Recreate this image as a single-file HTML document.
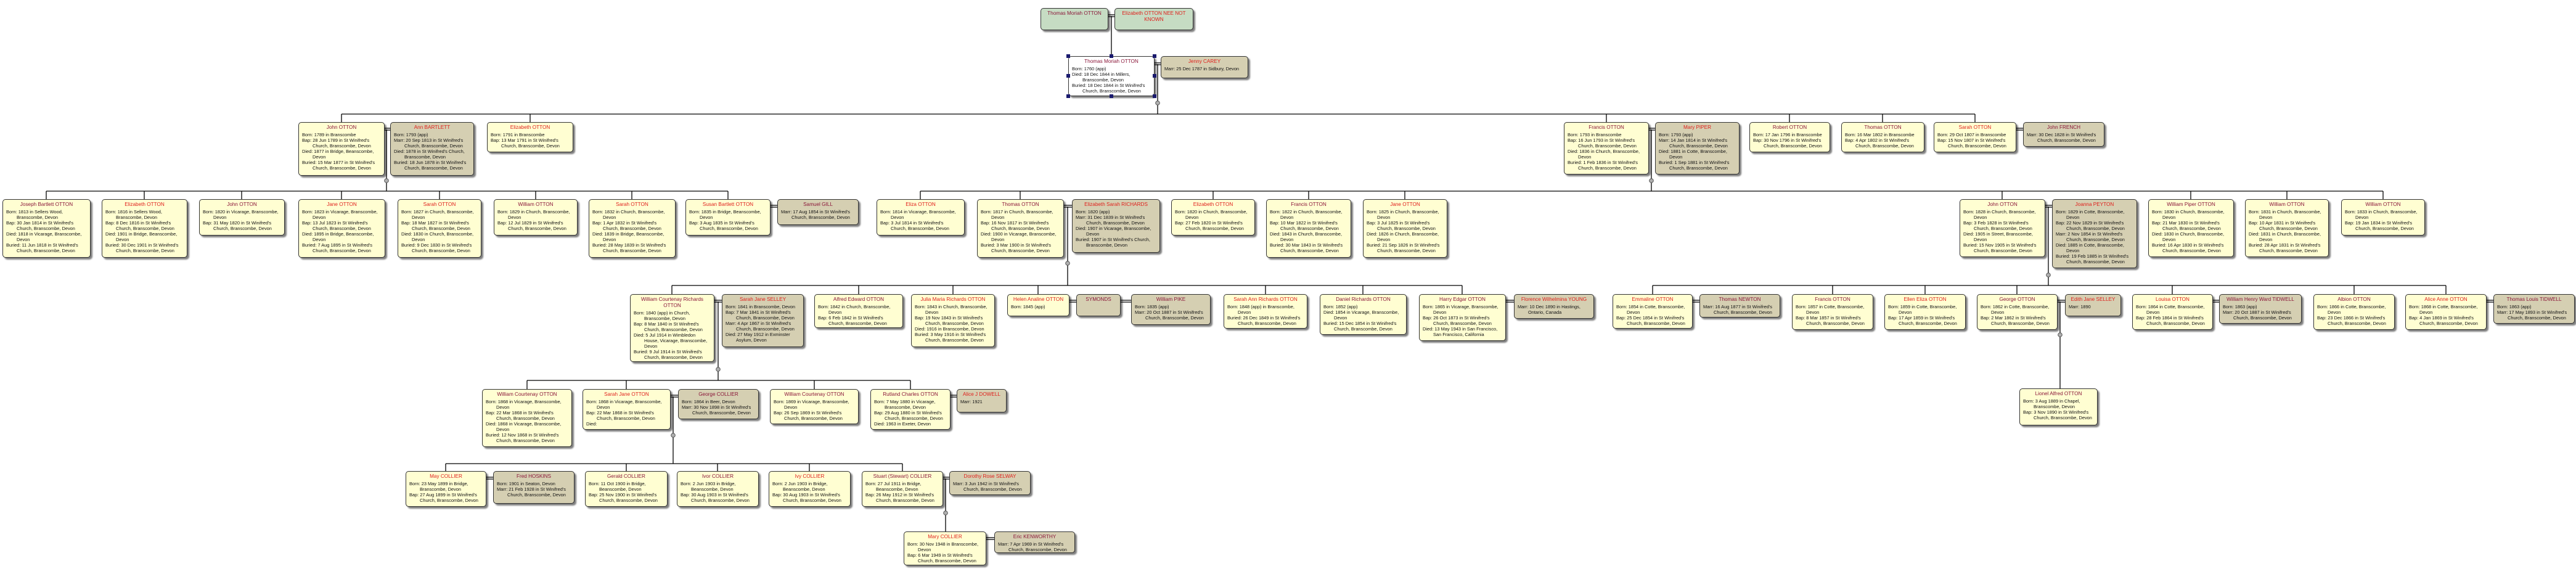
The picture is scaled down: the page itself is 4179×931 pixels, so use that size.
<!DOCTYPE html>
<html><head><meta charset="utf-8">
<style>
body{margin:0;width:4179px;height:931px;background:#fff;position:relative;overflow:hidden;font-family:"Liberation Sans",sans-serif;}
svg.l{position:absolute;left:0;top:0}
.b{position:absolute;box-sizing:border-box;border:1px solid #333;border-radius:5px;box-shadow:3px 3px 2px rgba(0,0,0,.5);font-size:7.4px;color:#111;overflow:hidden;white-space:nowrap}
.y{background:#fffed2}.t{background:#d5cfb2}.g{background:#c6dcc3}.w{background:#fff}
.n{text-align:center;font-size:8.2px;line-height:10px;margin:3px 0 2px}
.m{color:#8a1538}.r{color:#e01e1a}
.b div.d{line-height:9px;padding-left:5px}
.b div.c{line-height:9px;padding-left:22px}
.h{position:absolute;width:6px;height:6px;background:#1a1a6e}
</style></head><body>
<svg class="l" width="4179" height="931" stroke="#000" stroke-width="1.3" fill="none">
<!-- top -->
<line x1="1798" y1="24" x2="1808" y2="24"/><line x1="1798" y1="27" x2="1808" y2="27"/>
<line x1="1803" y1="26" x2="1803" y2="91"/>
<line x1="1873" y1="102" x2="1883" y2="102"/><line x1="1873" y1="105" x2="1883" y2="105"/>
<line x1="1878" y1="104" x2="1878" y2="185"/>
<!-- row2 bar -->
<line x1="554" y1="185" x2="3204" y2="185"/>
<line x1="554" y1="185" x2="554" y2="198"/><line x1="860" y1="185" x2="860" y2="198"/><line x1="2606" y1="185" x2="2606" y2="198"/><line x1="2903" y1="185" x2="2903" y2="198"/><line x1="3054" y1="185" x2="3054" y2="198"/><line x1="3204" y1="185" x2="3204" y2="198"/>
<line x1="624" y1="208" x2="633" y2="208"/><line x1="624" y1="211" x2="633" y2="211"/><line x1="627" y1="210" x2="627" y2="310"/>
<line x1="2675" y1="208" x2="2685" y2="208"/><line x1="2675" y1="211" x2="2685" y2="211"/><line x1="2679" y1="210" x2="2679" y2="310"/>
<line x1="3271" y1="208" x2="3282" y2="208"/><line x1="3271" y1="211" x2="3282" y2="211"/>
<!-- row3 A -->
<line x1="75" y1="310" x2="1181" y2="310"/>
<line x1="75" y1="310" x2="75" y2="323"/><line x1="234" y1="310" x2="234" y2="323"/><line x1="392" y1="310" x2="392" y2="323"/><line x1="554" y1="310" x2="554" y2="323"/><line x1="713" y1="310" x2="713" y2="323"/><line x1="869" y1="310" x2="869" y2="323"/><line x1="1025" y1="310" x2="1025" y2="323"/><line x1="1181" y1="310" x2="1181" y2="323"/>
<line x1="1250" y1="333" x2="1261" y2="333"/><line x1="1250" y1="336" x2="1261" y2="336"/>
<!-- row3 B -->
<line x1="1493" y1="310" x2="3866" y2="310"/>
<line x1="1493" y1="310" x2="1493" y2="323"/><line x1="1655" y1="310" x2="1655" y2="323"/><line x1="1968" y1="310" x2="1968" y2="323"/><line x1="2123" y1="310" x2="2123" y2="323"/><line x1="2279" y1="310" x2="2279" y2="323"/><line x1="3248" y1="310" x2="3248" y2="323"/><line x1="3554" y1="310" x2="3554" y2="323"/><line x1="3710" y1="310" x2="3710" y2="323"/><line x1="3866" y1="310" x2="3866" y2="323"/>
<line x1="1726" y1="333" x2="1739" y2="333"/><line x1="1726" y1="336" x2="1739" y2="336"/><line x1="1732" y1="335" x2="1732" y2="463"/>
<line x1="3318" y1="333" x2="3329" y2="333"/><line x1="3318" y1="336" x2="3329" y2="336"/><line x1="3323" y1="335" x2="3323" y2="463"/>
<!-- row4 A -->
<line x1="1090" y1="463" x2="2372" y2="463"/>
<line x1="1090" y1="463" x2="1090" y2="477"/><line x1="1393" y1="463" x2="1393" y2="477"/><line x1="1546" y1="463" x2="1546" y2="477"/><line x1="1684" y1="463" x2="1684" y2="477"/><line x1="2053" y1="463" x2="2053" y2="477"/><line x1="2211" y1="463" x2="2211" y2="477"/><line x1="2372" y1="463" x2="2372" y2="477"/>
<line x1="1159" y1="487" x2="1171" y2="487"/><line x1="1159" y1="490" x2="1171" y2="490"/><line x1="1165" y1="489" x2="1165" y2="617"/>
<line x1="1735" y1="487" x2="1746" y2="487"/><line x1="1735" y1="490" x2="1746" y2="490"/>
<line x1="1818" y1="487" x2="1835" y2="487"/><line x1="1818" y1="490" x2="1835" y2="490"/>
<line x1="2443" y1="487" x2="2456" y2="487"/><line x1="2443" y1="490" x2="2456" y2="490"/>
<!-- row4 B -->
<line x1="2681" y1="463" x2="3968" y2="463"/>
<line x1="2681" y1="463" x2="2681" y2="477"/><line x1="2973" y1="463" x2="2973" y2="477"/><line x1="3123" y1="463" x2="3123" y2="477"/><line x1="3272" y1="463" x2="3272" y2="477"/><line x1="3524" y1="463" x2="3524" y2="477"/><line x1="3819" y1="463" x2="3819" y2="477"/><line x1="3968" y1="463" x2="3968" y2="477"/>
<line x1="2746" y1="487" x2="2757" y2="487"/><line x1="2746" y1="490" x2="2757" y2="490"/>
<line x1="3338" y1="487" x2="3350" y2="487"/><line x1="3338" y1="490" x2="3350" y2="490"/><line x1="3342" y1="489" x2="3342" y2="630"/>
<line x1="3590" y1="487" x2="3600" y2="487"/><line x1="3590" y1="490" x2="3600" y2="490"/>
<line x1="4034" y1="487" x2="4045" y2="487"/><line x1="4034" y1="490" x2="4045" y2="490"/>
<!-- row5 -->
<line x1="855" y1="617" x2="1477" y2="617"/>
<line x1="855" y1="617" x2="855" y2="631"/><line x1="1016" y1="617" x2="1016" y2="631"/><line x1="1321" y1="617" x2="1321" y2="631"/><line x1="1477" y1="617" x2="1477" y2="631"/>
<line x1="1088" y1="641" x2="1100" y2="641"/><line x1="1088" y1="644" x2="1100" y2="644"/><line x1="1092" y1="643" x2="1092" y2="752"/>
<line x1="1542" y1="641" x2="1552" y2="641"/><line x1="1542" y1="644" x2="1552" y2="644"/>
<!-- row6 -->
<line x1="723" y1="752" x2="1464" y2="752"/>
<line x1="723" y1="752" x2="723" y2="764"/><line x1="1016" y1="752" x2="1016" y2="764"/><line x1="1164" y1="752" x2="1164" y2="764"/><line x1="1313" y1="752" x2="1313" y2="764"/><line x1="1464" y1="752" x2="1464" y2="764"/>
<line x1="789" y1="774" x2="800" y2="774"/><line x1="789" y1="777" x2="800" y2="777"/>
<line x1="1530" y1="774" x2="1540" y2="774"/><line x1="1530" y1="777" x2="1540" y2="777"/><line x1="1534" y1="776" x2="1534" y2="862"/>
<line x1="1600" y1="872" x2="1613" y2="872"/><line x1="1600" y1="875" x2="1613" y2="875"/>
<g fill="#b0b0b0" stroke="#555" stroke-width="1">
<circle cx="1878" cy="167" r="3.3"/><circle cx="627" cy="293" r="3.3"/><circle cx="2679" cy="293" r="3.3"/><circle cx="1732" cy="427" r="3.3"/><circle cx="3323" cy="446" r="3.3"/><circle cx="1165" cy="599" r="3.3"/><circle cx="3342" cy="543" r="3.3"/><circle cx="1092" cy="706" r="3.3"/><circle cx="1534" cy="832" r="3.3"/>
</g>
</svg>

<!-- Row 1 -->
<div class="b g" style="left:1688px;top:13px;width:110px;height:36px"><div class="n m">Thomas Moriah OTTON</div></div>
<div class="b g" style="left:1808px;top:13px;width:128px;height:36px"><div class="n r">Elizabeth OTTON NEE NOT<br>KNOWN</div></div>

<!-- Row 2 -->
<div class="b w" style="left:1733px;top:91px;width:140px;height:65px"><div class="n m">Thomas Moriah OTTON</div><div class="d">Born: 1760 (app)</div><div class="d">Died: 18 Dec 1844 in Millers,</div><div class="c">Branscombe, Devon</div><div class="d">Buried: 18 Dec 1844 in St Winifred's</div><div class="c">Church, Branscombe, Devon</div></div>
<div class="h" style="left:1730px;top:88px"></div><div class="h" style="left:1800px;top:88px"></div><div class="h" style="left:1870px;top:88px"></div><div class="h" style="left:1730px;top:120px"></div><div class="h" style="left:1870px;top:120px"></div><div class="h" style="left:1730px;top:153px"></div><div class="h" style="left:1800px;top:153px"></div><div class="h" style="left:1870px;top:153px"></div>
<div class="b t" style="left:1883px;top:91px;width:142px;height:36px"><div class="n r">Jenny CAREY</div><div class="d">Marr: 25 Dec 1787 in Sidbury, Devon</div></div>

<div class="b y" style="left:484px;top:198px;width:140px;height:87px"><div class="n m">John OTTON</div><div class="d">Born: 1789 in Branscombe</div><div class="d">Bap: 28 Jun 1789 in St Winifred's</div><div class="c">Church, Branscombe, Devon</div><div class="d">Died: 1877 in Bridge, Beanscombe,</div><div class="c">Devon</div><div class="d">Buried: 15 Mar 1877 in St Winifred's</div><div class="c">Church, Branscombe, Devon</div></div>
<div class="b t" style="left:633px;top:198px;width:136px;height:87px"><div class="n r">Ann BARTLETT</div><div class="d">Born: 1793 (app)</div><div class="d">Marr: 20 Sep 1813 in St Winifred's</div><div class="c">Church, Branscombe, Devon</div><div class="d">Died: 1878 in St Winifred's Church,</div><div class="c">Branscombe, Devon</div><div class="d">Buried: 18 Jun 1878 in St Winifred's</div><div class="c">Church, Branscombe, Devon</div></div>
<div class="b y" style="left:790px;top:198px;width:140px;height:49px"><div class="n r">Elizabeth OTTON</div><div class="d">Born: 1791 in Branscombe</div><div class="d">Bap: 13 Mar 1791 in St Winifred's</div><div class="c">Church, Branscombe, Devon</div></div>

<div class="b y" style="left:2537px;top:198px;width:138px;height:85px"><div class="n m">Francis OTTON</div><div class="d">Born: 1793 in Branscombe</div><div class="d">Bap: 16 Jun 1793 in St Winifred's</div><div class="c">Church, Branscombe, Devon</div><div class="d">Died: 1836 in Church, Branscombe,</div><div class="c">Devon</div><div class="d">Buried: 1 Feb 1836 in St Winifred's</div><div class="c">Church, Branscombe, Devon</div></div>
<div class="b t" style="left:2685px;top:198px;width:137px;height:85px"><div class="n r">Mary PIPER</div><div class="d">Born: 1793 (app)</div><div class="d">Marr: 14 Jan 1814 in St Winifred's</div><div class="c">Church, Branscombe, Devon</div><div class="d">Died: 1881 in Cotte, Branscombe,</div><div class="c">Devon</div><div class="d">Buried: 1 Sep 1881 in St Winifred's</div><div class="c">Church, Branscombe, Devon</div></div>
<div class="b y" style="left:2838px;top:198px;width:131px;height:49px"><div class="n m">Robert OTTON</div><div class="d">Born: 17 Jan 1796 in Branscombe</div><div class="d">Bap: 30 Nov 1796 in St Winifred's</div><div class="c">Church, Branscombe, Devon</div></div>
<div class="b y" style="left:2987px;top:198px;width:135px;height:49px"><div class="n m">Thomas OTTON</div><div class="d">Born: 16 Mar 1802 in Branscombe</div><div class="d">Bap: 4 Apr 1802 in St Winifred's</div><div class="c">Church, Branscombe, Devon</div></div>
<div class="b y" style="left:3137px;top:198px;width:134px;height:49px"><div class="n r">Sarah OTTON</div><div class="d">Born: 29 Oct 1807 in Branscombe</div><div class="d">Bap: 15 Nov 1807 in St Winifred's</div><div class="c">Church, Branscombe, Devon</div></div>
<div class="b t" style="left:3282px;top:198px;width:132px;height:40px"><div class="n m">John FRENCH</div><div class="d">Marr: 30 Dec 1828 in St Winifred's</div><div class="c">Church, Branscombe, Devon</div></div>

<!-- Row 3 A -->
<div class="b y" style="left:4px;top:323px;width:143px;height:95px"><div class="n m">Joseph Bartlett OTTON</div><div class="d">Born: 1813 in Sellers Wood,</div><div class="c">Branscombe, Devon</div><div class="d">Bap: 30 Jan 1814 in St Winifred's</div><div class="c">Church, Branscombe, Devon</div><div class="d">Died: 1818 in Vicarage, Branscombe,</div><div class="c">Devon</div><div class="d">Buried: 11 Jun 1818 in St Winifred's</div><div class="c">Church, Branscombe, Devon</div></div>
<div class="b y" style="left:165px;top:323px;width:139px;height:95px"><div class="n r">Elizabeth OTTON</div><div class="d">Born: 1816 in Sellers Wood,</div><div class="c">Branscombe, Devon</div><div class="d">Bap: 8 Dec 1816 in St Winifred's</div><div class="c">Church, Branscombe, Devon</div><div class="d">Died: 1901 in Bridge, Beanscombe,</div><div class="c">Devon</div><div class="d">Buried: 30 Dec 1901 in St Winifred's</div><div class="c">Church, Branscombe, Devon</div></div>
<div class="b y" style="left:323px;top:323px;width:139px;height:59px"><div class="n m">John OTTON</div><div class="d">Born: 1820 in Vicarage, Branscombe,</div><div class="c">Devon</div><div class="d">Bap: 31 May 1820 in St Winifred's</div><div class="c">Church, Branscombe, Devon</div></div>
<div class="b y" style="left:484px;top:323px;width:141px;height:95px"><div class="n r">Jane OTTON</div><div class="d">Born: 1823 in Vicarage, Branscombe,</div><div class="c">Devon</div><div class="d">Bap: 13 Jul 1823 in St Winifred's</div><div class="c">Church, Branscombe, Devon</div><div class="d">Died: 1895 in Bridge, Beanscombe,</div><div class="c">Devon</div><div class="d">Buried: 7 Aug 1895 in St Winifred's</div><div class="c">Church, Branscombe, Devon</div></div>
<div class="b y" style="left:645px;top:323px;width:136px;height:95px"><div class="n r">Sarah OTTON</div><div class="d">Born: 1827 in Church, Branscombe,</div><div class="c">Devon</div><div class="d">Bap: 18 Mar 1827 in St Winifred's</div><div class="c">Church, Branscombe, Devon</div><div class="d">Died: 1830 in Church, Branscombe,</div><div class="c">Devon</div><div class="d">Buried: 9 Dec 1830 in St Winifred's</div><div class="c">Church, Branscombe, Devon</div></div>
<div class="b y" style="left:801px;top:323px;width:136px;height:59px"><div class="n m">William OTTON</div><div class="d">Born: 1829 in Church, Branscombe,</div><div class="c">Devon</div><div class="d">Bap: 12 Jul 1829 in St Winifred's</div><div class="c">Church, Branscombe, Devon</div></div>
<div class="b y" style="left:955px;top:323px;width:141px;height:95px"><div class="n r">Sarah OTTON</div><div class="d">Born: 1832 in Church, Branscombe,</div><div class="c">Devon</div><div class="d">Bap: 1 Apr 1832 in St Winifred's</div><div class="c">Church, Branscombe, Devon</div><div class="d">Died: 1839 in Bridge, Beanscombe,</div><div class="c">Devon</div><div class="d">Buried: 28 May 1839 in St Winifred's</div><div class="c">Church, Branscombe, Devon</div></div>
<div class="b y" style="left:1112px;top:323px;width:138px;height:59px"><div class="n r">Susan Bartlett OTTON</div><div class="d">Born: 1835 in Bridge, Beanscombe,</div><div class="c">Devon</div><div class="d">Bap: 3 Aug 1835 in St Winifred's</div><div class="c">Church, Branscombe, Devon</div></div>
<div class="b t" style="left:1261px;top:323px;width:132px;height:42px"><div class="n m">Samuel GILL</div><div class="d">Marr: 17 Aug 1854 in St Winifred's</div><div class="c">Church, Branscombe, Devon</div></div>

<!-- Row 3 B -->
<div class="b y" style="left:1422px;top:323px;width:143px;height:59px"><div class="n r">Eliza OTTON</div><div class="d">Born: 1814 in Vicarage, Branscombe,</div><div class="c">Devon</div><div class="d">Bap: 3 Jul 1814 in St Winifred's</div><div class="c">Church, Branscombe, Devon</div></div>
<div class="b y" style="left:1585px;top:323px;width:141px;height:95px"><div class="n m">Thomas OTTON</div><div class="d">Born: 1817 in Church, Branscombe,</div><div class="c">Devon</div><div class="d">Bap: 16 Nov 1817 in St Winifred's</div><div class="c">Church, Branscombe, Devon</div><div class="d">Died: 1900 in Vicarage, Branscombe,</div><div class="c">Devon</div><div class="d">Buried: 3 Mar 1900 in St Winifred's</div><div class="c">Church, Branscombe, Devon</div></div>
<div class="b t" style="left:1739px;top:323px;width:143px;height:87px"><div class="n r">Elizabeth Sarah RICHARDS</div><div class="d">Born: 1820 (app)</div><div class="d">Marr: 31 Dec 1839 in St Winifred's</div><div class="c">Church, Branscombe, Devon</div><div class="d">Died: 1907 in Vicarage, Branscombe,</div><div class="c">Devon</div><div class="d">Buried: 1907 in St Winifred's Church,</div><div class="c">Branscombe, Devon</div></div>
<div class="b y" style="left:1900px;top:323px;width:136px;height:59px"><div class="n r">Elizabeth OTTON</div><div class="d">Born: 1820 in Church, Branscombe,</div><div class="c">Devon</div><div class="d">Bap: 27 Feb 1820 in St Winifred's</div><div class="c">Church, Branscombe, Devon</div></div>
<div class="b y" style="left:2054px;top:323px;width:138px;height:95px"><div class="n m">Francis OTTON</div><div class="d">Born: 1822 in Church, Branscombe,</div><div class="c">Devon</div><div class="d">Bap: 10 Mar 1822 in St Winifred's</div><div class="c">Church, Branscombe, Devon</div><div class="d">Died: 1843 in Church, Branscombe,</div><div class="c">Devon</div><div class="d">Buried: 30 Mar 1843 in St Winifred's</div><div class="c">Church, Branscombe, Devon</div></div>
<div class="b y" style="left:2211px;top:323px;width:137px;height:95px"><div class="n r">Jane OTTON</div><div class="d">Born: 1825 in Church, Branscombe,</div><div class="c">Devon</div><div class="d">Bap: 3 Jul 1825 in St Winifred's</div><div class="c">Church, Branscombe, Devon</div><div class="d">Died: 1826 in Church, Branscombe,</div><div class="c">Devon</div><div class="d">Buried: 21 Sep 1826 in St Winifred's</div><div class="c">Church, Branscombe, Devon</div></div>
<div class="b y" style="left:3179px;top:323px;width:139px;height:94px"><div class="n m">John OTTON</div><div class="d">Born: 1828 in Church, Branscombe,</div><div class="c">Devon</div><div class="d">Bap: 3 Feb 1828 in St Winifred's</div><div class="c">Church, Branscombe, Devon</div><div class="d">Died: 1905 in Street, Branscombe,</div><div class="c">Devon</div><div class="d">Buried: 15 Nov 1905 in St Winifred's</div><div class="c">Church, Branscombe, Devon</div></div>
<div class="b t" style="left:3329px;top:323px;width:138px;height:112px"><div class="n r">Joanna PEYTON</div><div class="d">Born: 1829 in Cotte, Branscombe,</div><div class="c">Devon</div><div class="d">Bap: 22 Nov 1829 in St Winifred's</div><div class="c">Church, Branscombe, Devon</div><div class="d">Marr: 2 Nov 1854 in St Winifred's</div><div class="c">Church, Branscombe, Devon</div><div class="d">Died: 1885 in Cotte, Branscombe,</div><div class="c">Devon</div><div class="d">Buried: 19 Feb 1885 in St Winifred's</div><div class="c">Church, Branscombe, Devon</div></div>
<div class="b y" style="left:3485px;top:323px;width:139px;height:94px"><div class="n m">William Piper OTTON</div><div class="d">Born: 1830 in Church, Branscombe,</div><div class="c">Devon</div><div class="d">Bap: 21 Mar 1830 in St Winifred's</div><div class="c">Church, Branscombe, Devon</div><div class="d">Died: 1830 in Church, Branscombe,</div><div class="c">Devon</div><div class="d">Buried: 16 Apr 1830 in St Winifred's</div><div class="c">Church, Branscombe, Devon</div></div>
<div class="b y" style="left:3642px;top:323px;width:136px;height:94px"><div class="n m">William OTTON</div><div class="d">Born: 1831 in Church, Branscombe,</div><div class="c">Devon</div><div class="d">Bap: 10 Apr 1831 in St Winifred's</div><div class="c">Church, Branscombe, Devon</div><div class="d">Died: 1831 in Church, Branscombe,</div><div class="c">Devon</div><div class="d">Buried: 28 Apr 1831 in St Winifred's</div><div class="c">Church, Branscombe, Devon</div></div>
<div class="b y" style="left:3798px;top:323px;width:136px;height:59px"><div class="n m">William OTTON</div><div class="d">Born: 1833 in Church, Branscombe,</div><div class="c">Devon</div><div class="d">Bap: 19 Jan 1834 in St Winifred's</div><div class="c">Church, Branscombe, Devon</div></div>

<!-- Row 4 A -->
<div class="b y" style="left:1022px;top:477px;width:137px;height:110px"><div class="n m">William Courtenay Richards<br>OTTON</div><div class="d">Born: 1840 (app) in Church,</div><div class="c">Branscombe, Devon</div><div class="d">Bap: 8 Mar 1840 in St Winifred's</div><div class="c">Church, Branscombe, Devon</div><div class="d">Died: 5 Jul 1914 in Wimbledon</div><div class="c">House, Vicarage, Branscombe,</div><div class="c">Devon</div><div class="d">Buried: 9 Jul 1914 in St Winifred's</div><div class="c">Church, Branscombe, Devon</div></div>
<div class="b t" style="left:1171px;top:477px;width:133px;height:86px"><div class="n r">Sarah Jane SELLEY</div><div class="d">Born: 1841 in Branscombe, Devon</div><div class="d">Bap: 7 Mar 1841 in St Winifred's</div><div class="c">Church, Branscombe, Devon</div><div class="d">Marr: 4 Apr 1867 in St Winifred's</div><div class="c">Church, Branscombe, Devon</div><div class="d">Died: 27 May 1912 in Exminster</div><div class="c">Asylum, Devon</div></div>
<div class="b y" style="left:1321px;top:477px;width:144px;height:55px"><div class="n m">Alfred Edward OTTON</div><div class="d">Born: 1842 in Church, Branscombe,</div><div class="c">Devon</div><div class="d">Bap: 6 Feb 1842 in St Winifred's</div><div class="c">Church, Branscombe, Devon</div></div>
<div class="b y" style="left:1478px;top:477px;width:136px;height:86px"><div class="n r">Julia Maria Richards OTTON</div><div class="d">Born: 1843 in Church, Branscombe,</div><div class="c">Devon</div><div class="d">Bap: 19 Nov 1843 in St Winifred's</div><div class="c">Church, Branscombe, Devon</div><div class="d">Died: 1916 in Branscombe, Devon</div><div class="d">Buried: 3 May 1916 in St Winifred's</div><div class="c">Church, Branscombe, Devon</div></div>
<div class="b y" style="left:1634px;top:477px;width:101px;height:36px"><div class="n r">Helen Analine OTTON</div><div class="d">Born: 1845 (app)</div></div>
<div class="b t" style="left:1746px;top:477px;width:72px;height:36px"><div class="n m">SYMONDS</div></div>
<div class="b t" style="left:1835px;top:477px;width:129px;height:50px"><div class="n m">William PIKE</div><div class="d">Born: 1835 (app)</div><div class="d">Marr: 20 Oct 1887 in St Winifred's</div><div class="c">Church, Branscombe, Devon</div></div>
<div class="b y" style="left:1985px;top:477px;width:136px;height:56px"><div class="n r">Sarah Ann Richards OTTON</div><div class="d">Born: 1848 (app) in Branscombe,</div><div class="c">Devon</div><div class="d">Buried: 26 Dec 1849 in St Winifred's</div><div class="c">Church, Branscombe, Devon</div></div>
<div class="b y" style="left:2141px;top:477px;width:141px;height:66px"><div class="n m">Daniel Richards OTTON</div><div class="d">Born: 1852 (app)</div><div class="d">Died: 1854 in Vicarage, Branscombe,</div><div class="c">Devon</div><div class="d">Buried: 15 Dec 1854 in St Winifred's</div><div class="c">Church, Branscombe, Devon</div></div>
<div class="b y" style="left:2302px;top:477px;width:141px;height:76px"><div class="n m">Harry Edgar OTTON</div><div class="d">Born: 1865 in Vicarage, Branscombe,</div><div class="c">Devon</div><div class="d">Bap: 26 Oct 1873 in St Winifred's</div><div class="c">Church, Branscombe, Devon</div><div class="d">Died: 13 May 1943 in San Francisco,</div><div class="c">San Francisco, California</div></div>
<div class="b t" style="left:2456px;top:477px;width:130px;height:40px"><div class="n r">Florence Wilhelmina YOUNG</div><div class="d">Marr: 10 Dec 1890 in Hastings,</div><div class="c">Ontario, Canada</div></div>

<!-- Row 4 B -->
<div class="b y" style="left:2616px;top:477px;width:130px;height:56px"><div class="n r">Emmaline OTTON</div><div class="d">Born: 1854 in Cotte, Branscombe,</div><div class="c">Devon</div><div class="d">Bap: 25 Dec 1854 in St Winifred's</div><div class="c">Church, Branscombe, Devon</div></div>
<div class="b t" style="left:2757px;top:477px;width:131px;height:38px"><div class="n m">Thomas NEWTON</div><div class="d">Marr: 16 Aug 1877 in St Winifred's</div><div class="c">Church, Branscombe, Devon</div></div>
<div class="b y" style="left:2907px;top:477px;width:132px;height:58px"><div class="n m">Francis OTTON</div><div class="d">Born: 1857 in Cotte, Branscombe,</div><div class="c">Devon</div><div class="d">Bap: 8 Mar 1857 in St Winifred's</div><div class="c">Church, Branscombe, Devon</div></div>
<div class="b y" style="left:3057px;top:477px;width:132px;height:58px"><div class="n r">Ellen Eliza OTTON</div><div class="d">Born: 1859 in Cotte, Branscombe,</div><div class="c">Devon</div><div class="d">Bap: 17 Apr 1859 in St Winifred's</div><div class="c">Church, Branscombe, Devon</div></div>
<div class="b y" style="left:3207px;top:477px;width:131px;height:58px"><div class="n m">George OTTON</div><div class="d">Born: 1862 in Cotte, Branscombe,</div><div class="c">Devon</div><div class="d">Bap: 2 Mar 1862 in St Winifred's</div><div class="c">Church, Branscombe, Devon</div></div>
<div class="b t" style="left:3350px;top:477px;width:91px;height:36px"><div class="n r">Edith Jane SELLEY</div><div class="d">Marr: 1890</div></div>
<div class="b y" style="left:3459px;top:477px;width:131px;height:58px"><div class="n r">Louisa OTTON</div><div class="d">Born: 1864 in Cotte, Branscombe,</div><div class="c">Devon</div><div class="d">Bap: 28 Feb 1864 in St Winifred's</div><div class="c">Church, Branscombe, Devon</div></div>
<div class="b t" style="left:3600px;top:477px;width:134px;height:48px"><div class="n m">William Henry Ward TIDWELL</div><div class="d">Born: 1863 (app)</div><div class="d">Marr: 20 Oct 1887 in St Winifred's</div><div class="c">Church, Branscombe, Devon</div></div>
<div class="b y" style="left:3753px;top:477px;width:132px;height:58px"><div class="n m">Albion OTTON</div><div class="d">Born: 1866 in Cotte, Branscombe,</div><div class="c">Devon</div><div class="d">Bap: 23 Dec 1866 in St Winifred's</div><div class="c">Church, Branscombe, Devon</div></div>
<div class="b y" style="left:3902px;top:477px;width:132px;height:58px"><div class="n r">Alice Anne OTTON</div><div class="d">Born: 1868 in Cotte, Branscombe,</div><div class="c">Devon</div><div class="d">Bap: 4 Jan 1869 in St Winifred's</div><div class="c">Church, Branscombe, Devon</div></div>
<div class="b t" style="left:4045px;top:477px;width:132px;height:48px"><div class="n m">Thomas Louis TIDWELL</div><div class="d">Born: 1863 (app)</div><div class="d">Marr: 17 May 1893 in St Winifred's</div><div class="c">Church, Branscombe, Devon</div></div>

<!-- Row 5 -->
<div class="b y" style="left:782px;top:631px;width:146px;height:94px"><div class="n m">William Courtenay OTTON</div><div class="d">Born: 1868 in Vicarage, Branscombe,</div><div class="c">Devon</div><div class="d">Bap: 22 Mar 1868 in St Winifred's</div><div class="c">Church, Branscombe, Devon</div><div class="d">Died: 1868 in Vicarage, Branscombe,</div><div class="c">Devon</div><div class="d">Buried: 12 Nov 1868 in St Winifred's</div><div class="c">Church, Branscombe, Devon</div></div>
<div class="b y" style="left:945px;top:631px;width:143px;height:66px"><div class="n r">Sarah Jane OTTON</div><div class="d">Born: 1868 in Vicarage, Branscombe,</div><div class="c">Devon</div><div class="d">Bap: 22 Mar 1868 in St Winifred's</div><div class="c">Church, Branscombe, Devon</div><div class="d">Died:</div></div>
<div class="b t" style="left:1100px;top:631px;width:131px;height:49px"><div class="n m">George COLLIER</div><div class="d">Born: 1864 in Beer, Devon</div><div class="d">Marr: 30 Nov 1898 in St Winifred's</div><div class="c">Church, Branscombe, Devon</div></div>
<div class="b y" style="left:1249px;top:631px;width:144px;height:57px"><div class="n m">William Courtenay OTTON</div><div class="d">Born: 1869 in Vicarage, Branscombe,</div><div class="c">Devon</div><div class="d">Bap: 26 Sep 1869 in St Winifred's</div><div class="c">Church, Branscombe, Devon</div></div>
<div class="b y" style="left:1412px;top:631px;width:130px;height:66px"><div class="n m">Rutland Charles OTTON</div><div class="d">Born: 7 May 1880 in Vicarage,</div><div class="c">Branscombe, Devon</div><div class="d">Bap: 29 Aug 1880 in St Winifred's</div><div class="c">Church, Branscombe, Devon</div><div class="d">Died: 1963 in Exeter, Devon</div></div>
<div class="b t" style="left:1552px;top:631px;width:81px;height:38px"><div class="n r">Alice J DOWELL</div><div class="d">Marr: 1921</div></div>
<div class="b y" style="left:3276px;top:630px;width:127px;height:60px"><div class="n m">Lionel Alfred OTTON</div><div class="d">Born: 3 Aug 1889 in Chapel,</div><div class="c">Branscombe, Devon</div><div class="d">Bap: 3 Nov 1890 in St Winifred's</div><div class="c">Church, Branscombe, Devon</div></div>

<!-- Row 6 -->
<div class="b y" style="left:658px;top:764px;width:131px;height:58px"><div class="n r">May COLLIER</div><div class="d">Born: 23 May 1899 in Bridge,</div><div class="c">Branscombe, Devon</div><div class="d">Bap: 27 Aug 1899 in St Winifred's</div><div class="c">Church, Branscombe, Devon</div></div>
<div class="b t" style="left:800px;top:764px;width:132px;height:53px"><div class="n m">Fred HOSKINS</div><div class="d">Born: 1901 in Seaton, Devon</div><div class="d">Marr: 21 Feb 1928 in St Winifred's</div><div class="c">Church, Branscombe, Devon</div></div>
<div class="b y" style="left:949px;top:764px;width:134px;height:58px"><div class="n m">Gerald COLLIER</div><div class="d">Born: 11 Oct 1900 in Bridge,</div><div class="c">Beanscombe, Devon</div><div class="d">Bap: 25 Nov 1900 in St Winifred's</div><div class="c">Church, Branscombe, Devon</div></div>
<div class="b y" style="left:1098px;top:764px;width:133px;height:58px"><div class="n m">Ivor COLLIER</div><div class="d">Born: 2 Jun 1903 in Bridge,</div><div class="c">Beanscombe, Devon</div><div class="d">Bap: 30 Aug 1903 in St Winifred's</div><div class="c">Church, Branscombe, Devon</div></div>
<div class="b y" style="left:1247px;top:764px;width:133px;height:58px"><div class="n r">Ivy COLLIER</div><div class="d">Born: 2 Jun 1903 in Bridge,</div><div class="c">Beanscombe, Devon</div><div class="d">Bap: 30 Aug 1903 in St Winifred's</div><div class="c">Church, Branscombe, Devon</div></div>
<div class="b y" style="left:1398px;top:764px;width:132px;height:58px"><div class="n m">Stuart (Stewart) COLLIER</div><div class="d">Born: 27 Jul 1911 in Bridge,</div><div class="c">Beanscombe, Devon</div><div class="d">Bap: 26 May 1912 in St Winifred's</div><div class="c">Church, Branscombe, Devon</div></div>
<div class="b t" style="left:1540px;top:764px;width:132px;height:39px"><div class="n r">Dorothy Rose SELWAY</div><div class="d">Marr: 3 Jun 1942 in St Winifred's</div><div class="c">Church, Branscombe, Devon</div></div>

<!-- Row 7 -->
<div class="b y" style="left:1466px;top:862px;width:134px;height:55px"><div class="n r">Mary COLLIER</div><div class="d">Born: 30 Nov 1948 in Branscombe,</div><div class="c">Devon</div><div class="d">Bap: 6 Mar 1949 in St Winifred's</div><div class="c">Church, Branscombe, Devon</div></div>
<div class="b t" style="left:1613px;top:862px;width:131px;height:35px"><div class="n m">Eric KENWORTHY</div><div class="d">Marr: 7 Apr 1969 in St Winifred's</div><div class="c">Church, Branscombe, Devon</div></div>
</body></html>
